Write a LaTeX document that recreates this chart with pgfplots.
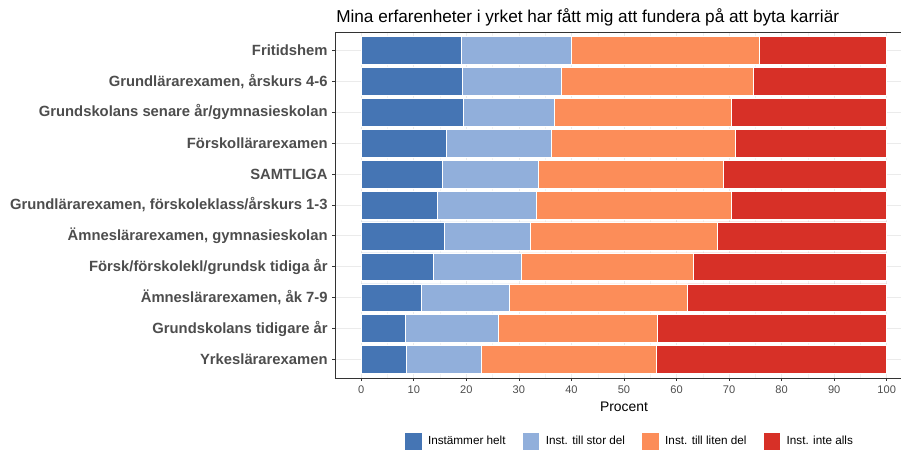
\documentclass[border=0pt]{standalone}
\usepackage{pgfplots}
\pgfplotsset{compat=1.18}
\usepackage{pgfplotstable}
\usepackage{fontspec}
\setmainfont{Liberation Sans}
\definecolor{helt}{HTML}{4575B4}
\definecolor{stor}{HTML}{91AFDB}
\definecolor{liten}{HTML}{FC8D59}
\definecolor{inte}{HTML}{D73027}
\definecolor{axtxt}{HTML}{4D4D4D}
\definecolor{gridc}{HTML}{EBEBEB}

% y: 1 = Yrkeslärarexamen ... 11 = Fritidshem
\pgfplotstableread{
y  helt stor liten inte
1  8.5  14.3 33.4  43.8
2  8.3  17.8 30.2  43.7
3  11.5 16.7 33.9  37.9
4  13.7 16.7 32.8  36.8
5  15.8 16.4 35.6  32.2
6  14.5 18.8 37.2  29.5
7  15.4 18.3 35.2  31.1
8  16.1 20.1 35.0  28.8
9  19.5 17.2 33.8  29.5
10 19.3 18.7 36.6  25.4
11 19.0 21.0 35.7  24.3
}\svar

\begin{document}
\begin{tikzpicture}
\begin{axis}[
  scale only axis, width=433.5pt, height=259.5pt,
  xbar stacked, bar width=0.9,
  xmin=-5, xmax=105, ymin=0.4, ymax=11.6,
  axis lines*=left,
  axis line style={draw=black!80, line width=0.6pt},
  xtick={0,10,...,100}, minor xtick={-5,5,...,105},
  ytick={1,...,11},
  yticklabels={Yrkeslärarexamen, Grundskolans tidigare år, {Ämneslärarexamen, åk 7-9},
    Försk/förskolekl/grundsk tidiga år, {Ämneslärarexamen, gymnasieskolan},
    {Grundlärarexamen, förskoleklass/årskurs 1-3}, SAMTLIGA, Förskollärarexamen,
    Grundskolans senare år/gymnasieskolan, {Grundlärarexamen, årskurs 4-6}, Fritidshem},
  tick align=outside, major tick length=2pt,
  tick style={draw=black!80, line width=0.6pt},
  minor tick length=0pt,
  xmajorgrids, xminorgrids, ymajorgrids,
  major grid style={gridc, line width=0.6pt},
  minor grid style={gridc!60, line width=0.3pt},
  /pgf/number format/assume math mode=true,
  xticklabel style={font=\fontsize{8.3}{10}\selectfont, text=axtxt},
  yticklabel style={font=\fontsize{11.1}{12}\selectfont\bfseries, text=axtxt},
  xlabel={Procent},
  every axis x label/.style={at={(rel axis cs:0.5,0)}, anchor=center, yshift=-21.75pt,
    font=\fontsize{10.4}{12}\selectfont},
  legend columns=4,
  legend style={at={(rel axis cs:0.510,-0.182)}, anchor=center, draw=none, fill=none,
    font=\fontsize{8.8}{10}\selectfont,
    /tikz/every odd column/.append style={column sep=2.5pt},
    /tikz/every even column/.append style={column sep=10pt}},
  legend image code/.code={\fill[#1] (0pt,-6.6pt) rectangle (13.2pt,6.6pt);},
  every axis plot/.append style={draw=white, line width=0.4pt},
]
\addplot[fill=helt]  table[x=helt,  y=y] {\svar};
\addplot[fill=stor]  table[x=stor,  y=y] {\svar};
\addplot[fill=liten] table[x=liten, y=y] {\svar};
\addplot[fill=inte]  table[x=inte,  y=y] {\svar};
\legend{Instämmer helt, Inst. till stor del, Inst. till liten del, Inst. inte alls}
\draw[black!80, line width=0.6pt] (rel axis cs:0,1) -- (rel axis cs:1,1);
\coordinate (pl) at (rel axis cs:0,0);
\coordinate (pt) at (rel axis cs:0,1);
\end{axis}
\node[anchor=base west, font=\fontsize{12.9}{15}\selectfont, xshift=0.75pt, yshift=6.75pt, inner sep=0pt]
  at (pt) {Mina erfarenheter i yrket har fått mig att fundera på att byta karriär};
\pgfresetboundingbox
\path[use as bounding box] ([xshift=-251.25pt, yshift=-57pt]pl) rectangle ([xshift=424.5pt, yshift=24pt]pt);
\end{tikzpicture}
\end{document}
